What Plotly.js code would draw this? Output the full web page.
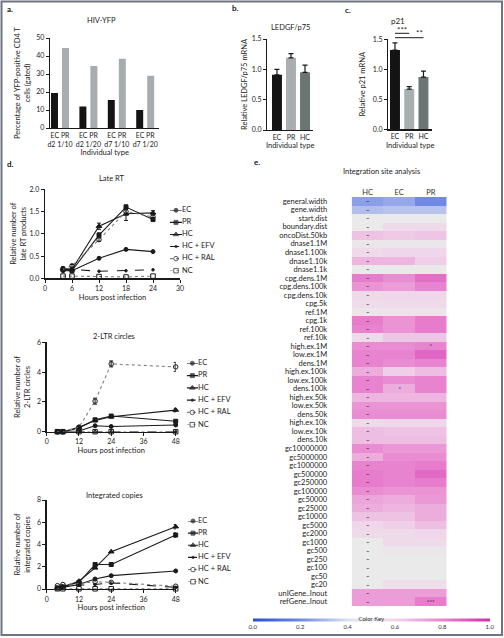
<!DOCTYPE html>
<html><head><meta charset="utf-8">
<script src="https://cdn.plot.ly/plotly-3.0.1.min.js"></script>
<style>html,body{margin:0;padding:0;background:#fff;}#chart{width:504px;height:638px;}</style>
</head><body><div id="chart"></div>
<script>
// ---------- Panel a : HIV-YFP ----------
const aGroups = ['EC PR<br>d2 1/10','EC PR<br>d2 1/20','EC PR<br>d7 1/10','EC PR<br>d7 1/20'];
const aEC = [19.5, 12.0, 15.5, 10.0];
const aPR = [44.5, 34.5, 38.5, 29.0];
// ---------- Panels b, c ----------
const types = ['EC','PR','HC'];
const ledgf = [0.91, 1.19, 0.95];
const ledgfErr = [0.09, 0.07, 0.12];
const p21 = [1.32, 0.67, 0.87];
const p21Err = [0.12, 0.04, 0.10];
// ---------- Panel d ----------
const series = ['EC','PR','HC','HC + EFV','HC + RAL','NC'];
const lateHours = [4, 6, 12, 18, 24];
const lateEC  = [0.17, 0.17, 0.45, 0.65, 0.60];
const latePR  = [0.20, 0.17, 0.97, 1.60, 1.32];
const lateHC  = [0.22, 0.20, 1.17, 1.45, 1.47];
const lateEFV = [0.20, 0.20, 0.16, 0.17, 0.19];
const lateRAL = [0.20, 0.28, 0.87, 1.50, 1.38];
const lateNC  = [0.05, 0.05, 0.04, 0.03, 0.05];
const lateErrPR  = [0.03, null, 0.05, 0.05, 0.04];
const lateErrHC  = [0.04, null, 0.07, 0.15, 0.05];
const lateErrRAL = [null, 0.03, 0.04, 0.08, 0.06];

const ltrHours = [4, 6, 12, 18, 24, 48];
const ltrEC  = [0.00, 0.00, 0.05, 0.40, 0.35, 0.45];
const ltrPR  = [0.00, 0.00, 0.25, 0.80, 1.05, 0.70];
const ltrHC  = [0.00, 0.00, 0.30, 0.75, 1.00, 1.45];
const ltrEFV = [0.00, 0.00, 0.00, 0.00, 0.00, 0.00];
const ltrRAL = [0.00, 0.00, 0.30, 2.05, 4.55, 4.35];
const ltrNC  = [0.00, 0.00, 0.00, 0.00, 0.00, 0.00];
const ltrErrHC  = [null, null, null, 0.08, 0.06, 0.12];
const ltrErrRAL = [null, null, null, 0.20, 0.20, 0.30];

const intHours = [4, 6, 12, 18, 24, 48];
const intEC  = [0.10, 0.15, 0.40, 0.90, 1.20, 1.62];
const intPR  = [0.10, 0.20, 0.60, 2.20, 2.20, 4.85];
const intHC  = [0.10, 0.20, 0.70, 1.90, 3.35, 5.60];
const intEFV = [0.10, 0.20, 0.35, 0.40, 0.55, 0.15];
const intRAL = [0.30, 0.40, 0.50, 0.65, 0.60, 0.25];
const intNC  = [0.02, 0.02, 0.02, 0.02, 0.02, 0.02];
const intErrPR = [null, null, null, 0.15, null, 0.20];
const intErrHC = [null, null, null, null, null, 0.20];

// ---------- Panel e : heatmap ----------
const hmCols = ['HC','EC','PR'];
const hmRows = ['general.width','gene.width','start.dist','boundary.dist','oncoDist.50kb',
 'dnase1.1M','dnase1.100k','dnase1.10k','dnase1.1k','cpg.dens.1M','cpg.dens.100k','cpg.dens.10k',
 'cpg.5k','ref.1M','cpg.1k','ref.100k','ref.10k','high.ex.1M','low.ex.1M','dens.1M',
 'high.ex.100k','low.ex.100k','dens.100k','high.ex.50k','low.ex.50k','dens.50k',
 'high.ex.10k','low.ex.10k','dens.10k','gc10000000','gc5000000','gc1000000','gc500000',
 'gc250000','gc100000','gc50000','gc25000','gc10000','gc5000','gc2000','gc1000','gc500',
 'gc250','gc100','gc50','gc20','unIGene..Inout','refGene..Inout'];
const hmHC = [0.25,0.32,0.50,0.50,0.65,0.52,0.58,0.68,0.50,0.82,0.76,0.58,0.57,0.52,0.82,0.80,0.58,0.78,0.80,0.80,
 0.70,0.80,0.80,0.68,0.76,0.78,0.58,0.66,0.66,0.78,0.70,0.80,0.82,0.82,0.78,0.72,0.70,0.65,0.60,0.58,
 0.50,0.50,0.50,0.50,0.50,0.50,0.74,0.74];
const hmEC = [0.27,0.33,0.50,0.58,0.63,0.52,0.60,0.68,0.51,0.78,0.74,0.60,0.58,0.53,0.76,0.76,0.64,0.78,0.80,0.78,
 0.62,0.78,0.70,0.68,0.76,0.78,0.60,0.65,0.66,0.75,0.78,0.80,0.80,0.80,0.76,0.70,0.68,0.65,0.62,0.58,
 0.58,0.52,0.50,0.50,0.50,0.56,0.74,0.74];
const hmPR = [0.20,0.33,0.50,0.58,0.64,0.52,0.60,0.62,0.51,0.85,0.80,0.60,0.58,0.53,0.82,0.82,0.64,0.80,0.87,0.80,
 0.66,0.80,0.80,0.68,0.76,0.78,0.60,0.65,0.66,0.75,0.78,0.82,0.86,0.82,0.76,0.75,0.70,0.70,0.66,0.60,
 0.58,0.52,0.50,0.50,0.50,0.56,0.74,0.82];
const hmSigEC = {'dens.100k':'*'};
const hmSigPR = {'high.ex.1M':'*','refGene..Inout':'***'};
const colorKeyTicks = [0, 0.2, 0.4, 0.6, 0.8, 1.0];

// ---------- helpers ----------
const W = 504, H = 638;
const xd = (a, b) => [a / W, b / W];
const yd = (t, b) => [1 - b / H, 1 - t / H];
const FONT = 'Lato, "Open Sans", sans-serif';
const INK = '#1a1a1a';
const axBase = {showline:true, linecolor:INK, linewidth:1.3, ticks:'outside', ticklen:3, tickwidth:1,
  tickcolor:INK, showgrid:false, zeroline:false, tickfont:{size:7, color:'#222'}, fixedrange:true};
const ax = (o) => Object.assign({}, axBase, o);

const styles = [
  {symbol:'circle', dash:'solid', line:INK, size:4},
  {symbol:'square', dash:'solid', line:INK, size:4},
  {symbol:'triangle-up', dash:'solid', line:INK, size:5},
  {symbol:'circle', dash:'dash', line:INK, size:2.5},
  {symbol:'circle-open', dash:'dot', line:'#808080', size:4.5},
  {symbol:'square-open', dash:'dot', line:'#808080', size:4.5}
];

const traces = [];
// Panel a
traces.push({type:'bar', x:aGroups, y:aEC, xaxis:'x', yaxis:'y', marker:{color:'#141414'},
  width:0.246, offset:-0.317, showlegend:false, hoverinfo:'skip'});
traces.push({type:'bar', x:aGroups, y:aPR, xaxis:'x', yaxis:'y', marker:{color:'#a7acaf'},
  width:0.246, offset:0.071, showlegend:false, hoverinfo:'skip'});
// Panels b & c
const typeColors = ['#141414','#a9aeb1','#6c7573'];
traces.push({type:'bar', x:types, y:ledgf, xaxis:'x2', yaxis:'y2', marker:{color:typeColors}, width:0.71,
  error_y:{type:'data', symmetric:false, array:ledgfErr, arrayminus:[0,0,0], color:INK, thickness:1.2, width:2.5},
  showlegend:false, hoverinfo:'skip'});
traces.push({type:'bar', x:types, y:p21, xaxis:'x3', yaxis:'y3', marker:{color:typeColors}, width:0.70,
  error_y:{type:'data', symmetric:false, array:p21Err, arrayminus:[0,0,0], color:INK, thickness:1.2, width:2.5},
  showlegend:false, hoverinfo:'skip'});

function addLines(hours, sets, errs, xa, ya) {
  sets.forEach((vals, i) => {
    const s = styles[i];
    const t = {type:'scatter', mode:'lines+markers', x:hours, y:vals, xaxis:xa, yaxis:ya,
      line:{color:s.line, width:1.1, dash:s.dash},
      marker:{symbol:s.symbol, size:s.size, color:INK, line:{color:INK, width:1}},
      showlegend:false, hoverinfo:'skip', cliponaxis:false};
    if (errs[i]) t.error_y = {type:'data', array:errs[i], color:INK, thickness:1, width:2};
    traces.push(t);
  });
}
function addLegend(xa, ya) {
  series.forEach((name, i) => {
    const s = styles[i];
    traces.push({type:'scatter', mode:'lines+markers+text', x:[0, 0.5, 1], y:[i, i, i],
      xaxis:xa, yaxis:ya, text:['', '', name], textposition:'middle right',
      textfont:{size:7.5, color:'#222'},
      line:{color:s.line, width:1.1, dash:s.dash},
      marker:{symbol:s.symbol, size:[0, s.size, 0], color:INK, line:{color:INK, width:1}},
      showlegend:false, hoverinfo:'skip', cliponaxis:false});
  });
}
addLines(lateHours, [lateEC, latePR, lateHC, lateEFV, lateRAL, lateNC],
  [null, lateErrPR, lateErrHC, null, lateErrRAL, null], 'x4', 'y4');
addLines(ltrHours, [ltrEC, ltrPR, ltrHC, ltrEFV, ltrRAL, ltrNC],
  [null, null, ltrErrHC, null, ltrErrRAL, null], 'x5', 'y5');
addLines(intHours, [intEC, intPR, intHC, intEFV, intRAL, intNC],
  [null, intErrPR, intErrHC, null, null, null], 'x6', 'y6');
addLegend('x8', 'y8');
addLegend('x9', 'y9');
addLegend('x10', 'y10');

// Heatmap
const z = hmRows.map((r, i) => [hmHC[i], hmEC[i], hmPR[i]]);
const txt = hmRows.map(r => ['<b>–</b>', hmSigEC[r] || '', hmSigPR[r] || '']);
traces.push({type:'heatmap', x:hmCols, y:hmRows, z:z, text:txt, texttemplate:'%{text}',
  textfont:{size:6, color:'#111'}, xaxis:'x7', yaxis:'y7', zmin:0, zmax:1, hoverinfo:'skip',
  colorscale:[[0,'#2a4bd6'],[0.2,'#7088e6'],[0.4,'#dde2ee'],[0.5,'#eaeaea'],[0.6,'#f0d6ea'],[0.8,'#e884cf'],[1,'#cf2faa']],
  colorbar:{orientation:'h', x:371.3/W, xanchor:'center', y:1-620/H, yanchor:'middle',
    len:237, lenmode:'pixels', thickness:3, thicknessmode:'pixels', outlinewidth:0, xpad:0, ypad:0,
    tickvals:colorKeyTicks, ticktext:colorKeyTicks.map(v => v.toFixed(1)), ticks:'',
    tickfont:{size:6, color:'#333'}, title:{text:'Color Key', side:'top', font:{size:6, color:'#333'}}}});

const hidden = {visible:false, fixedrange:true};
const annText = (text, px, py, o) => Object.assign({text, x:px / W, y:1 - py / H, xref:'paper', yref:'paper',
  xanchor:'center', yanchor:'middle', showarrow:false, font:{size:7.5, color:'#222'}}, o || {});

const layout = {
  width:W, height:H, margin:{l:0, r:0, t:0, b:0}, paper_bgcolor:'#fff', plot_bgcolor:'rgba(0,0,0,0)',
  font:{family:FONT, size:7.5, color:'#222'}, barmode:'overlay', showlegend:false,
  xaxis: ax({domain:xd(50,159.4), anchor:'y', type:'category', range:[-0.352,3.5], ticks:'',
    title:{text:'Individual type', font:{size:7.5}, standoff:2}}),
  yaxis: ax({domain:yd(38,128), anchor:'x', range:[0,50], dtick:10,
    title:{text:'Percentage of YFP-positive CD4 T<br>cells (gated)', font:{size:7.5}, standoff:4}}),
  xaxis2: ax({domain:xd(267.3,313), anchor:'y2', type:'category', range:[-0.69,2.57], ticks:'',
    title:{text:'Individual type', font:{size:7.5}, standoff:3}}),
  yaxis2: ax({domain:yd(39,130), anchor:'x2', range:[0,1.5], dtick:0.5, tickformat:'.1f',
    title:{text:'Relative LEDGF/p75 mRNA', font:{size:7.5}, standoff:3}}),
  xaxis3: ax({domain:xd(388.3,432), anchor:'y3', type:'category', range:[-0.47,2.6], ticks:'',
    title:{text:'Individual type', font:{size:7.5}, standoff:3}}),
  yaxis3: ax({domain:yd(39.3,129.3), anchor:'x3', range:[0,1.5], dtick:0.5, tickformat:'.1f',
    title:{text:'Relative p21 mRNA', font:{size:7.5}, standoff:6}}),
  xaxis4: ax({domain:xd(45,180), anchor:'y4', range:[0,30], dtick:6,
    title:{text:'Hours post infection', font:{size:7.5}, standoff:3}}),
  yaxis4: ax({domain:yd(189.3,278.3), anchor:'x4', range:[0,2], dtick:0.5, tickformat:'.1f',
    title:{text:'Relative number of<br>late RT products', font:{size:7.5}, standoff:2}}),
  xaxis5: ax({domain:xd(46.7,175.7), anchor:'y5', range:[0,48], dtick:12,
    title:{text:'Hours post infection', font:{size:7.5}, standoff:3}}),
  yaxis5: ax({domain:yd(342.3,431.7), anchor:'x5', range:[0,6], dtick:2,
    title:{text:'Relative number of<br>2-LTR circles', font:{size:7.5}, standoff:5}}),
  xaxis6: ax({domain:xd(46.7,175.7), anchor:'y6', range:[0,48], dtick:12,
    title:{text:'Hours post infection', font:{size:7.5}, standoff:3}}),
  yaxis6: ax({domain:yd(500,589), anchor:'x6', range:[0,8], dtick:2,
    title:{text:'Relative number of<br>integrated copies', font:{size:7.5}, standoff:5}}),
  xaxis7: {domain:xd(351.7,446.7), anchor:'y7', side:'top', showline:false, showgrid:false, zeroline:false,
    ticks:'', tickfont:{size:7.5, color:'#333'}, fixedrange:true},
  yaxis7: {domain:yd(197,606), anchor:'x7', autorange:'reversed', showline:false, showgrid:false, zeroline:false,
    tickmode:'array', tickvals:hmRows, ticktext:hmRows,
    ticks:'outside', ticklen:22, tickcolor:'rgba(0,0,0,0)', tickfont:{size:7.5, color:'#222'}, fixedrange:true},
  xaxis8: Object.assign({domain:xd(170,182), anchor:'y8', range:[0,1]}, hidden),
  yaxis8: Object.assign({domain:yd(210.3,270.7), anchor:'x8', range:[5,0]}, hidden),
  xaxis9: Object.assign({domain:xd(186.7,198), anchor:'y9', range:[0,1]}, hidden),
  yaxis9: Object.assign({domain:yd(363.3,424.7), anchor:'x9', range:[5,0]}, hidden),
  xaxis10: Object.assign({domain:xd(188,198), anchor:'y10', range:[0,1]}, hidden),
  yaxis10: Object.assign({domain:yd(521,581.7), anchor:'x10', range:[5,0]}, hidden),
  annotations: [
    annText('<b>a.</b>', 10, 9.3, {font:{size:8, color:'#111'}}),
    annText('<b>b.</b>', 235, 8.3, {font:{size:8, color:'#111'}}),
    annText('<b>c.</b>', 348.3, 10, {font:{size:8, color:'#111'}}),
    annText('<b>d.</b>', 10, 164.3, {font:{size:8, color:'#111'}}),
    annText('<b>e.</b>', 257.3, 162.3, {font:{size:8, color:'#111'}}),
    annText('HIV-YFP', 101.7, 20.7),
    annText('LEDGF/p75', 290, 27.3),
    annText('p21', 398.3, 20.7, {font:{size:8, color:'#222'}}),
    annText('Late RT', 111.7, 178.3),
    annText('2-LTR circles', 114, 336),
    annText('Integrated copies', 114, 495),
    annText('Integration site analysis', 381, 171.7),
    {text:'***', x:0.5, xref:'x3', y:1 - 29.5 / H, yref:'paper', showarrow:false, xanchor:'center', yanchor:'middle', font:{size:8, color:'#222'}},
    {text:'**', x:1.75, xref:'x3', y:1 - 33 / H, yref:'paper', showarrow:false, xanchor:'center', yanchor:'middle', font:{size:8, color:'#222'}}
  ],
  shapes: [
    {type:'line', xref:'x3', yref:'paper', x0:0, x1:1, y0:1 - 33.3 / H, y1:1 - 33.3 / H, line:{color:INK, width:1}},
    {type:'line', xref:'x3', yref:'paper', x0:0, x1:2, y0:1 - 37.7 / H, y1:1 - 37.7 / H, line:{color:INK, width:1}},
    {type:'rect', xref:'paper', yref:'paper', x0:1.5 / W, x1:502 / W, y0:1 - 635 / H, y1:1 - 1.5 / H,
     line:{color:'#6f7482', width:2}, fillcolor:'rgba(0,0,0,0)'}
  ]
};

Plotly.newPlot('chart', traces, layout, {staticPlot:true, displayModeBar:false});
</script>
</body></html>
